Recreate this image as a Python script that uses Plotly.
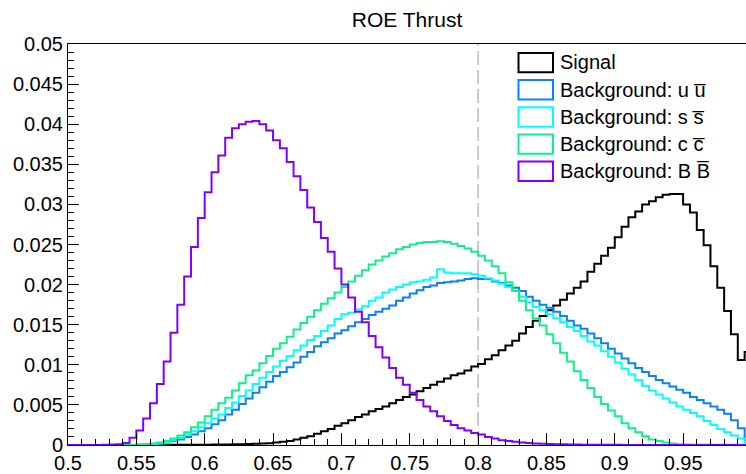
import numpy as np
import plotly.graph_objects as go

# histogram binning (100 bins between 0.5 and 1.0)
bin_lo, bin_hi, n_bins = 0.5, 1.0, 100
cut_value = 0.8

names = ["Signal", "Background: u u\u0305", "Background: s s\u0305",
         "Background: c c\u0305", "Background: B B\u0305"]
colors = ["#000000", "#0a80ff", "#00ffff", "#10f088", "#8000ff"]

signal = [0, 0, 0, 0, 0, 0, 0, 0, 0, 0,
          0.00001, 0.00001, 0.00001, 0.00001, 0.00001, 0.00002, 0.00002, 0.00002, 0.00002, 0.00002,
          0.00004, 0.00005, 0.00006, 0.00007, 0.00008, 0.0001, 0.00012, 0.00015, 0.00018, 0.00022,
          0.0003, 0.0004, 0.0005, 0.0007, 0.0009, 0.0011, 0.0014, 0.0017, 0.0020, 0.0024,
          0.0027, 0.0031, 0.0035, 0.0038, 0.0042, 0.0045, 0.0048, 0.0052, 0.0056, 0.0060,
          0.0063, 0.0067, 0.0071, 0.0075, 0.0079, 0.0083, 0.0087, 0.0089, 0.0093, 0.0098,
          0.0101, 0.0107, 0.0112, 0.0118, 0.0124, 0.0130, 0.0139, 0.0147, 0.0155, 0.0161,
          0.0168, 0.0174, 0.0181, 0.0189, 0.0196, 0.0204, 0.0216, 0.0226, 0.0236, 0.0246,
          0.0259, 0.0272, 0.0284, 0.0291, 0.0300, 0.0304, 0.0309, 0.0312, 0.0313, 0.0313,
          0.0300, 0.0290, 0.0268, 0.0249, 0.0223, 0.0196, 0.0167, 0.0138, 0.0106, 0.0116]

bkg_uu = [0, 0, 0, 0, 0, 0, 0, 0, 0, 0,
          0.00002, 0.00005, 0.0001, 0.0002, 0.0003, 0.0005, 0.0007, 0.0010, 0.0013, 0.0017,
          0.0021, 0.0026, 0.0031, 0.0038, 0.0044, 0.0051, 0.0058, 0.0065, 0.0072, 0.0079,
          0.0086, 0.0091, 0.0097, 0.0103, 0.0110, 0.0116, 0.0123, 0.0128, 0.0133, 0.0139,
          0.0143, 0.0148, 0.0153, 0.0157, 0.0162, 0.0166, 0.0170, 0.0174, 0.0180, 0.0184,
          0.0189, 0.0193, 0.0197, 0.0199, 0.0202, 0.0203, 0.0204, 0.0205, 0.0207, 0.0208,
          0.0207, 0.0207, 0.0204, 0.0202, 0.0199, 0.0196, 0.0192, 0.0185, 0.0180, 0.0175,
          0.0171, 0.0166, 0.0161, 0.0155, 0.0149, 0.0145, 0.0139, 0.0133, 0.0127, 0.0120,
          0.0114, 0.0108, 0.0102, 0.0096, 0.0091, 0.0086, 0.0081, 0.0077, 0.0073, 0.0069,
          0.0065, 0.0060, 0.0056, 0.0052, 0.0048, 0.0044, 0.0039, 0.0031, 0.0021, 0.0006]

bkg_ss = [0, 0, 0, 0, 0, 0, 0, 0, 0, 0,
          0, 0.00005, 0.0001, 0.0002, 0.0003, 0.0006, 0.0009, 0.0013, 0.0017, 0.0022,
          0.0027, 0.0033, 0.0038, 0.0046, 0.0053, 0.0061, 0.0068, 0.0076, 0.0084, 0.0091,
          0.0098, 0.0105, 0.0111, 0.0118, 0.0124, 0.0131, 0.0136, 0.0142, 0.0149, 0.0157,
          0.0163, 0.0165, 0.0169, 0.0173, 0.0180, 0.0184, 0.0190, 0.0194, 0.0197, 0.0200,
          0.0203, 0.0204, 0.0206, 0.0209, 0.0219, 0.0215, 0.0214, 0.0214, 0.0214, 0.0213,
          0.0211, 0.0208, 0.0205, 0.0201, 0.0197, 0.0192, 0.0185, 0.0178, 0.0172, 0.0168,
          0.0163, 0.0158, 0.0153, 0.0147, 0.0142, 0.0136, 0.0129, 0.0124, 0.0117, 0.0110,
          0.0103, 0.0095, 0.0088, 0.0081, 0.0074, 0.0068, 0.0063, 0.0058, 0.0053, 0.0048,
          0.0044, 0.0040, 0.0036, 0.0030, 0.0025, 0.0020, 0.0016, 0.0012, 0.0008, 0.0003]

bkg_cc = [0, 0, 0, 0, 0, 0, 0, 0, 0, 0,
          0.00005, 0.0001, 0.0002, 0.0003, 0.0005, 0.0008, 0.0012, 0.0016, 0.0022, 0.0028,
          0.0036, 0.0044, 0.0052, 0.0059, 0.0068, 0.0077, 0.0087, 0.0093, 0.0102, 0.0111,
          0.0120, 0.0127, 0.0135, 0.0144, 0.0152, 0.0160, 0.0168, 0.0176, 0.0183, 0.0190,
          0.0197, 0.0204, 0.0211, 0.0218, 0.0225, 0.0230, 0.0235, 0.0239, 0.0244, 0.0247,
          0.0250, 0.0252, 0.0253, 0.0253, 0.0254, 0.0253, 0.0251, 0.0248, 0.0245, 0.0241,
          0.0236, 0.0230, 0.0223, 0.0214, 0.0203, 0.0192, 0.0180, 0.0168, 0.0158, 0.0149,
          0.0138, 0.0127, 0.0115, 0.0104, 0.0092, 0.0081, 0.0071, 0.0060, 0.0051, 0.0043,
          0.0036, 0.0027, 0.0021, 0.0016, 0.0011, 0.0007, 0.0005, 0.0003, 0.0002, 0.0001,
          0.00005, 0.00002, 0.00002, 0.00002, 0.00002, 0.00002, 0.00002, 0.00002, 0.00002, 0.00002]

bkg_bb = [0, 0, 0, 0, 0, 0.00002, 0.00005, 0.0001, 0.00025, 0.0009,
          0.0018, 0.0033, 0.0052, 0.0076, 0.0104, 0.0140, 0.0175, 0.0210, 0.0247, 0.0283,
          0.0315, 0.0340, 0.0361, 0.0383, 0.0395, 0.0400, 0.0403, 0.0404, 0.0400, 0.0392,
          0.0380, 0.0370, 0.0353, 0.0335, 0.0318, 0.0296, 0.0278, 0.0258, 0.0241, 0.0220,
          0.0200, 0.0184, 0.0166, 0.0153, 0.0136, 0.0122, 0.0109, 0.0096, 0.0084, 0.0075,
          0.0065, 0.0056, 0.0048, 0.0042, 0.0036, 0.0030, 0.0025, 0.0021, 0.0018, 0.0015,
          0.0013, 0.0010, 0.0008, 0.0006, 0.0005, 0.0004, 0.0003, 0.00025, 0.0002, 0.00015,
          0.00012, 0.0001, 0.00008, 0.00006, 0.00005, 0.00004, 0.00003, 0.00003, 0.00003, 0.00003,
          0.00003, 0.00001, 0.00001, 0.00001, 0.00001, 0.00001, 0.00001, 0.00001, 0.00001, 0.00001,
          0.00001, 0.00001, 0.00001, 0.00001, 0.00001, 0.00001, 0.00001, 0.00001, 0.00001, 0.00001]

series = [signal, bkg_uu, bkg_ss, bkg_cc, bkg_bb]

W, H = 746, 474
L, R, T, B = 68, 0, 44, 27
x_view_end = 0.996  # the canvas cuts the frame just before 1.0
font = "Liberation Sans, Arial, Helvetica, sans-serif"

edges = np.linspace(bin_lo, bin_hi, n_bins + 1)

fig = go.Figure()
for name, color, vals in zip(names, colors, series):
    fig.add_trace(go.Scatter(
        x=edges, y=list(vals) + [vals[-1]],
        mode="lines", line=dict(color=color, width=2, shape="hv"),
        name=name, showlegend=False, hoverinfo="skip"))

# cut line
fig.add_shape(type="line", xref="x", yref="y", x0=cut_value, x1=cut_value,
              y0=0, y1=0.05, line=dict(color="#c8c8c8", width=2, dash="14px,5px"),
              layer="below")

# hand drawn ROOT-style legend
pw, ph = W - L - R, H - T - B
def px(x):
    return (x - L) / pw
def py(y):
    return (H - B - y) / ph

for i, (name, color) in enumerate(zip(names, colors)):
    top = 53 + i * 27.3
    fig.add_shape(type="rect", xref="paper", yref="paper",
                  x0=px(518.5), x1=px(553), y0=py(top), y1=py(top + 19.5),
                  line=dict(color=color, width=2), fillcolor="rgba(0,0,0,0)")
    fig.add_annotation(xref="paper", yref="paper", x=px(558), y=py(top + 9.5),
                       xanchor="left", yanchor="middle", showarrow=False,
                       text=name, font=dict(family=font, size=20, color="black"))

axis_common = dict(showline=True, linecolor="black", linewidth=1,
                   ticks="inside", tickcolor="black", tickwidth=1,
                   showgrid=False, zeroline=False,
                   tickfont=dict(family=font, size=20, color="black"))

fig.update_layout(
    width=W, height=H,
    margin=dict(l=L, r=R, t=T, b=B),
    paper_bgcolor="white", plot_bgcolor="white",
    title=dict(text="ROE Thrust", x=0.5, xref="paper", y=1 - 20 / H,
               yref="container", xanchor="center", yanchor="middle",
               font=dict(family=font, size=21, color="black")),
    xaxis=dict(range=[bin_lo, x_view_end], dtick=0.05, tick0=0.5, ticklen=12,
               mirror=True,
               minor=dict(dtick=0.01, ticklen=6, ticks="inside", tickcolor="black"),
               **axis_common),
    yaxis=dict(range=[0, 0.05], dtick=0.005, tick0=0, ticklen=11,
               minor=dict(dtick=0.001, ticklen=6, ticks="inside", tickcolor="black"),
               **axis_common),
    showlegend=False,
)

# drop the default page margin so the figure sits at the window's corner
fig.write_html("out.html", config={"displayModeBar": False},
               post_script="document.body.style.margin='0';"
                           "document.body.style.overflow='hidden';")
